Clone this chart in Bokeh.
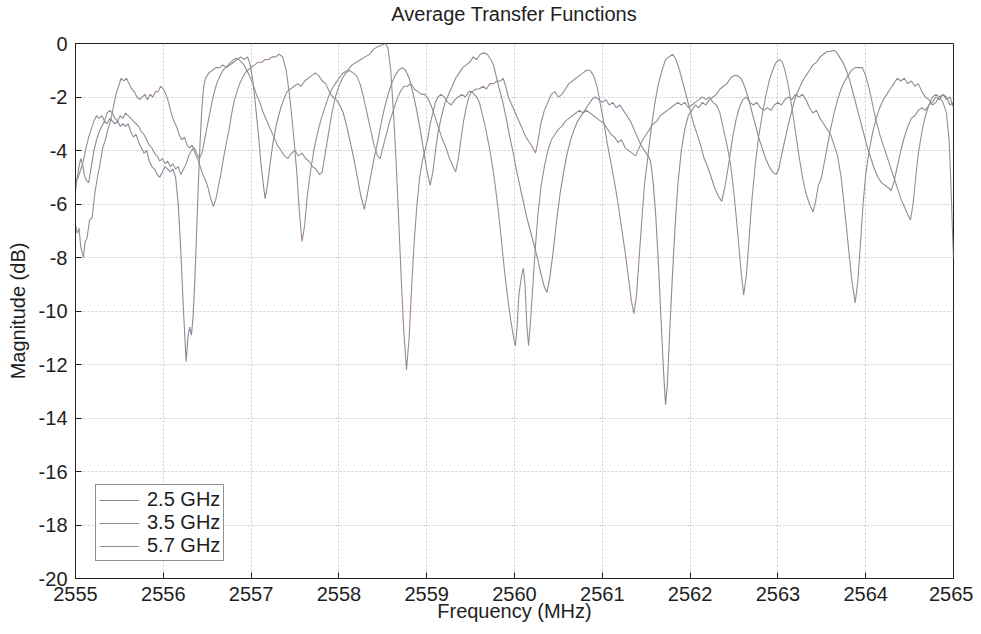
from bokeh.plotting import figure
from bokeh.models import ColumnDataSource, FixedTicker, Legend, LegendItem, Div
from bokeh.layouts import column
from bokeh.embed import file_html
from bokeh.resources import INLINE

# ---- data (frequency MHz, magnitude dB) ----
pts_25 = [
    (2555.00, -5.5), (2555.02, -5.0), (2555.04, -4.6), (2555.06, -4.3), (2555.08, -4.5), (2555.10, -4.9),
    (2555.12, -5.1), (2555.15, -5.2), (2555.18, -4.6), (2555.21, -4.0), (2555.24, -3.6), (2555.27, -3.3),
    (2555.30, -3.1), (2555.33, -2.9), (2555.36, -3.0), (2555.39, -2.8), (2555.42, -2.9), (2555.45, -3.0),
    (2555.48, -2.9), (2555.51, -3.1), (2555.54, -3.0), (2555.57, -3.1), (2555.60, -3.0), (2555.63, -3.3),
    (2555.66, -3.5), (2555.69, -3.4), (2555.72, -3.7), (2555.75, -3.9), (2555.78, -4.1), (2555.81, -4.0),
    (2555.84, -4.4), (2555.87, -4.6), (2555.90, -4.7), (2555.93, -4.9), (2555.96, -5.0), (2555.99, -4.8),
    (2556.02, -4.6), (2556.05, -4.7), (2556.08, -4.8), (2556.11, -4.7), (2556.14, -5.0), (2556.17, -6.0),
    (2556.20, -7.8), (2556.23, -10.0), (2556.26, -11.9), (2556.28, -11.0), (2556.30, -10.6), (2556.32, -10.9),
    (2556.34, -10.2), (2556.36, -8.8), (2556.38, -7.0), (2556.40, -5.2), (2556.42, -3.6), (2556.44, -2.4),
    (2556.46, -1.6), (2556.48, -1.3), (2556.52, -1.1), (2556.56, -1.0), (2556.60, -0.9), (2556.64, -0.9),
    (2556.68, -0.8), (2556.72, -0.9), (2556.76, -0.8), (2556.80, -0.7), (2556.84, -0.6), (2556.88, -0.5),
    (2556.92, -0.6), (2556.96, -0.5), (2556.99, -0.8), (2557.02, -1.4), (2557.05, -2.3), (2557.08, -3.3),
    (2557.11, -4.4), (2557.14, -5.3), (2557.16, -5.8), (2557.19, -5.2), (2557.22, -4.4), (2557.25, -3.7),
    (2557.29, -3.0), (2557.33, -2.5), (2557.37, -2.1), (2557.41, -1.8), (2557.45, -1.7), (2557.49, -1.6),
    (2557.53, -1.5), (2557.57, -1.6), (2557.61, -1.4), (2557.65, -1.3), (2557.69, -1.2), (2557.73, -1.1),
    (2557.77, -1.2), (2557.81, -1.4), (2557.85, -1.5), (2557.89, -1.8), (2557.93, -2.0), (2557.97, -2.1),
    (2558.01, -2.3), (2558.05, -2.6), (2558.09, -3.1), (2558.13, -3.7), (2558.17, -4.3), (2558.21, -5.0),
    (2558.25, -5.7), (2558.29, -6.2), (2558.32, -5.7), (2558.36, -5.0), (2558.40, -4.3), (2558.44, -3.7),
    (2558.48, -3.0), (2558.52, -2.4), (2558.56, -1.9), (2558.60, -1.5), (2558.64, -1.2), (2558.68, -1.0),
    (2558.72, -0.9), (2558.76, -1.0), (2558.80, -1.3), (2558.84, -1.8), (2558.88, -2.4), (2558.92, -3.1),
    (2558.96, -3.9), (2559.00, -4.7), (2559.04, -5.3), (2559.07, -4.8), (2559.10, -4.0), (2559.13, -3.3),
    (2559.17, -2.7), (2559.21, -2.2), (2559.25, -1.9), (2559.29, -1.6), (2559.33, -1.3), (2559.37, -1.1),
    (2559.41, -0.9), (2559.45, -0.8), (2559.49, -0.7), (2559.53, -0.5), (2559.57, -0.6), (2559.61, -0.4),
    (2559.65, -0.35), (2559.69, -0.4), (2559.73, -0.6), (2559.76, -0.8), (2559.79, -1.2), (2559.82, -1.6),
    (2559.86, -2.1), (2559.90, -2.7), (2559.94, -3.4), (2559.98, -4.0), (2560.02, -4.7), (2560.06, -5.3),
    (2560.10, -5.9), (2560.14, -6.5), (2560.18, -7.0), (2560.22, -7.5), (2560.26, -8.0), (2560.30, -8.6),
    (2560.34, -9.1), (2560.37, -9.3), (2560.40, -8.8), (2560.44, -7.8), (2560.48, -6.6), (2560.52, -5.6),
    (2560.56, -4.8), (2560.60, -4.1), (2560.64, -3.6), (2560.68, -3.2), (2560.72, -2.9), (2560.76, -2.7),
    (2560.80, -2.5), (2560.84, -2.3), (2560.88, -2.1), (2560.92, -2.0), (2560.96, -2.1), (2561.00, -2.2),
    (2561.04, -2.1), (2561.08, -2.3), (2561.12, -2.2), (2561.16, -2.4), (2561.20, -2.3), (2561.24, -2.5),
    (2561.28, -2.7), (2561.32, -2.9), (2561.36, -3.2), (2561.40, -3.5), (2561.44, -3.8), (2561.48, -4.0),
    (2561.52, -4.2), (2561.55, -4.4), (2561.58, -5.2), (2561.61, -6.5), (2561.64, -8.3), (2561.67, -10.4),
    (2561.70, -12.4), (2561.72, -13.5), (2561.74, -12.8), (2561.77, -10.6), (2561.80, -8.6), (2561.83, -6.8),
    (2561.86, -5.3), (2561.90, -4.0), (2561.94, -3.2), (2561.98, -2.7), (2562.02, -2.5), (2562.06, -2.3),
    (2562.10, -2.4), (2562.14, -2.2), (2562.18, -2.3), (2562.22, -2.1), (2562.26, -2.0), (2562.30, -1.9),
    (2562.34, -1.7), (2562.38, -1.6), (2562.42, -1.5), (2562.46, -1.3), (2562.50, -1.2), (2562.54, -1.2),
    (2562.58, -1.3), (2562.62, -1.6), (2562.66, -2.0), (2562.70, -2.5), (2562.74, -3.0), (2562.78, -3.5),
    (2562.82, -3.9), (2562.86, -4.3), (2562.90, -4.6), (2562.94, -4.8), (2562.98, -4.9), (2563.01, -4.7),
    (2563.04, -4.2), (2563.08, -3.6), (2563.12, -3.0), (2563.16, -2.5), (2563.20, -2.0), (2563.24, -1.7),
    (2563.28, -1.4), (2563.32, -1.2), (2563.36, -1.0), (2563.40, -0.8), (2563.44, -0.7), (2563.48, -0.5),
    (2563.52, -0.4), (2563.56, -0.3), (2563.60, -0.3), (2563.63, -0.25), (2563.66, -0.3), (2563.70, -0.5),
    (2563.74, -0.7), (2563.78, -1.0), (2563.82, -1.4), (2563.86, -1.9), (2563.90, -2.4), (2563.94, -2.9),
    (2563.98, -3.4), (2564.02, -3.9), (2564.06, -4.3), (2564.10, -4.7), (2564.14, -5.0), (2564.18, -5.2),
    (2564.22, -5.3), (2564.26, -5.4), (2564.29, -5.5), (2564.32, -5.2), (2564.36, -4.6), (2564.40, -4.0),
    (2564.44, -3.5), (2564.48, -3.1), (2564.52, -2.8), (2564.56, -2.7), (2564.60, -2.5), (2564.64, -2.4),
    (2564.68, -2.5), (2564.72, -2.3), (2564.76, -2.2), (2564.80, -2.0), (2564.84, -2.1), (2564.88, -1.9),
    (2564.92, -2.0), (2564.96, -2.3), (2565.00, -2.2),
]

pts_35 = [
    (2555.00, -5.2), (2555.03, -5.0), (2555.06, -4.7), (2555.09, -4.4), (2555.12, -3.9), (2555.15, -3.5),
    (2555.18, -3.2), (2555.21, -2.9), (2555.24, -2.7), (2555.27, -2.8), (2555.30, -2.7), (2555.33, -2.9),
    (2555.36, -2.6), (2555.39, -2.5), (2555.42, -2.6), (2555.45, -2.8), (2555.48, -2.9), (2555.51, -2.7),
    (2555.54, -2.8), (2555.57, -2.6), (2555.60, -2.7), (2555.63, -2.8), (2555.66, -2.9), (2555.69, -3.0),
    (2555.72, -3.1), (2555.75, -3.3), (2555.78, -3.4), (2555.81, -3.6), (2555.84, -3.8), (2555.87, -3.9),
    (2555.90, -4.1), (2555.93, -4.2), (2555.96, -4.4), (2555.99, -4.3), (2556.02, -4.5), (2556.05, -4.4),
    (2556.08, -4.6), (2556.11, -4.5), (2556.14, -4.7), (2556.17, -4.6), (2556.20, -4.9), (2556.23, -4.7),
    (2556.26, -4.5), (2556.29, -4.2), (2556.32, -4.0), (2556.35, -3.9), (2556.38, -4.1), (2556.41, -4.3),
    (2556.44, -4.1), (2556.47, -3.6), (2556.50, -3.1), (2556.53, -2.6), (2556.56, -2.1), (2556.59, -1.7),
    (2556.62, -1.4), (2556.65, -1.2), (2556.68, -1.0), (2556.71, -0.9), (2556.74, -0.8), (2556.77, -0.7),
    (2556.80, -0.6), (2556.83, -0.55), (2556.86, -0.6), (2556.89, -0.7), (2556.92, -0.8), (2556.95, -1.0),
    (2556.98, -1.2), (2557.02, -1.5), (2557.06, -1.9), (2557.10, -2.2), (2557.14, -2.6), (2557.18, -2.9),
    (2557.22, -3.2), (2557.26, -3.5), (2557.30, -3.8), (2557.34, -4.0), (2557.38, -4.2), (2557.42, -4.3),
    (2557.46, -4.1), (2557.50, -4.0), (2557.54, -4.2), (2557.58, -4.1), (2557.62, -4.3), (2557.66, -4.4),
    (2557.70, -4.6), (2557.74, -4.7), (2557.78, -4.9), (2557.81, -4.8), (2557.84, -4.2), (2557.88, -3.4),
    (2557.92, -2.6), (2557.96, -2.0), (2558.00, -1.6), (2558.04, -1.3), (2558.08, -1.1), (2558.12, -1.0),
    (2558.16, -1.1), (2558.20, -1.2), (2558.24, -1.5), (2558.28, -2.0), (2558.32, -2.6), (2558.36, -3.2),
    (2558.40, -3.8), (2558.44, -4.2), (2558.47, -4.3), (2558.50, -3.9), (2558.54, -3.4), (2558.58, -2.9),
    (2558.62, -2.5), (2558.66, -2.1), (2558.70, -1.8), (2558.74, -1.6), (2558.78, -1.6), (2558.82, -1.5),
    (2558.86, -1.7), (2558.90, -1.8), (2558.94, -1.9), (2558.98, -1.9), (2559.02, -2.1), (2559.06, -2.4),
    (2559.10, -2.8), (2559.14, -3.2), (2559.18, -3.6), (2559.22, -3.9), (2559.26, -4.3), (2559.30, -4.6),
    (2559.33, -4.8), (2559.36, -4.3), (2559.39, -3.6), (2559.42, -2.9), (2559.45, -2.4), (2559.48, -2.0),
    (2559.51, -1.8), (2559.54, -1.9), (2559.57, -2.0), (2559.60, -2.2), (2559.63, -2.6), (2559.66, -3.0),
    (2559.69, -3.5), (2559.72, -4.0), (2559.75, -4.6), (2559.78, -5.3), (2559.81, -6.1), (2559.84, -7.0),
    (2559.87, -8.0), (2559.90, -8.9), (2559.93, -9.7), (2559.96, -10.4), (2559.99, -11.0), (2560.01, -11.3),
    (2560.03, -10.6), (2560.05, -9.4), (2560.08, -8.7), (2560.10, -8.4), (2560.12, -9.0), (2560.14, -10.5),
    (2560.16, -11.3), (2560.18, -10.5), (2560.21, -9.0), (2560.24, -7.5), (2560.27, -6.3), (2560.30, -5.4),
    (2560.34, -4.6), (2560.38, -4.0), (2560.42, -3.6), (2560.46, -3.4), (2560.50, -3.2), (2560.54, -3.1),
    (2560.58, -2.9), (2560.62, -2.8), (2560.66, -2.7), (2560.70, -2.6), (2560.74, -2.5), (2560.78, -2.6),
    (2560.82, -2.5), (2560.86, -2.6), (2560.90, -2.7), (2560.94, -2.8), (2560.98, -2.9), (2561.02, -3.0),
    (2561.06, -3.2), (2561.10, -3.4), (2561.14, -3.5), (2561.18, -3.7), (2561.22, -3.6), (2561.26, -3.9),
    (2561.30, -4.0), (2561.34, -4.1), (2561.38, -4.2), (2561.42, -3.9), (2561.46, -3.6), (2561.50, -3.4),
    (2561.54, -3.2), (2561.58, -3.0), (2561.62, -2.9), (2561.66, -2.7), (2561.70, -2.6), (2561.74, -2.5),
    (2561.78, -2.4), (2561.82, -2.3), (2561.86, -2.2), (2561.90, -2.3), (2561.94, -2.2), (2561.98, -2.4),
    (2562.02, -2.3), (2562.06, -2.2), (2562.10, -2.1), (2562.14, -2.0), (2562.18, -2.1), (2562.22, -2.0),
    (2562.26, -2.2), (2562.30, -2.3), (2562.34, -2.6), (2562.38, -3.2), (2562.42, -3.8), (2562.46, -4.5),
    (2562.50, -5.6), (2562.54, -7.0), (2562.58, -8.5), (2562.61, -9.4), (2562.64, -8.7), (2562.67, -7.4),
    (2562.70, -6.0), (2562.74, -4.6), (2562.78, -3.5), (2562.82, -2.7), (2562.86, -2.0), (2562.90, -1.4),
    (2562.94, -1.0), (2562.98, -0.7), (2563.02, -0.6), (2563.05, -0.7), (2563.08, -1.0), (2563.12, -1.6),
    (2563.16, -2.4), (2563.20, -3.3), (2563.24, -4.2), (2563.28, -5.0), (2563.32, -5.6), (2563.36, -6.0),
    (2563.40, -6.3), (2563.43, -5.9), (2563.46, -5.3), (2563.49, -5.1), (2563.52, -4.6), (2563.56, -3.9),
    (2563.60, -3.2), (2563.64, -2.6), (2563.68, -2.1), (2563.72, -1.7), (2563.76, -1.4), (2563.80, -1.2),
    (2563.84, -1.0), (2563.88, -0.9), (2563.92, -0.9), (2563.96, -0.9), (2564.00, -1.2), (2564.04, -1.7),
    (2564.08, -2.3), (2564.12, -2.9), (2564.16, -3.4), (2564.20, -3.8), (2564.24, -4.2), (2564.28, -4.6),
    (2564.32, -5.0), (2564.36, -5.4), (2564.40, -5.8), (2564.44, -6.1), (2564.48, -6.4), (2564.51, -6.6),
    (2564.54, -6.0), (2564.57, -5.0), (2564.60, -4.1), (2564.64, -3.3), (2564.68, -2.7), (2564.72, -2.3),
    (2564.76, -2.0), (2564.80, -1.9), (2564.84, -2.0), (2564.88, -2.2), (2564.92, -2.6), (2564.95, -3.6),
    (2564.97, -5.2), (2564.99, -7.2), (2565.00, -8.0),
]

pts_57 = [
    (2555.00, -6.8), (2555.02, -7.1), (2555.04, -6.9), (2555.06, -7.6), (2555.09, -8.0), (2555.11, -7.4),
    (2555.13, -7.3), (2555.16, -6.6), (2555.19, -6.5), (2555.22, -5.6), (2555.25, -5.0), (2555.28, -4.5),
    (2555.31, -3.9), (2555.34, -3.6), (2555.37, -3.2), (2555.40, -2.9), (2555.43, -2.4), (2555.46, -1.9),
    (2555.49, -1.6), (2555.52, -1.3), (2555.55, -1.4), (2555.58, -1.3), (2555.61, -1.5), (2555.64, -1.7),
    (2555.67, -1.8), (2555.70, -2.0), (2555.73, -2.1), (2555.76, -2.0), (2555.79, -1.9), (2555.82, -2.1),
    (2555.85, -1.9), (2555.88, -2.0), (2555.91, -1.8), (2555.94, -1.8), (2555.97, -1.6), (2556.00, -1.7),
    (2556.03, -1.9), (2556.06, -2.2), (2556.09, -2.6), (2556.12, -2.9), (2556.15, -3.1), (2556.18, -3.4),
    (2556.21, -3.6), (2556.24, -3.5), (2556.27, -3.8), (2556.30, -3.9), (2556.33, -3.8), (2556.36, -4.1),
    (2556.39, -4.3), (2556.42, -4.6), (2556.45, -4.9), (2556.48, -5.1), (2556.51, -5.4), (2556.54, -5.8),
    (2556.57, -6.1), (2556.60, -5.8), (2556.63, -5.3), (2556.66, -4.8), (2556.69, -4.2), (2556.72, -3.7),
    (2556.75, -3.2), (2556.78, -2.6), (2556.81, -2.1), (2556.84, -1.8), (2556.87, -1.5), (2556.90, -1.3),
    (2556.93, -1.1), (2556.96, -1.0), (2557.00, -0.9), (2557.04, -0.8), (2557.08, -0.7), (2557.12, -0.7),
    (2557.16, -0.6), (2557.20, -0.6), (2557.24, -0.5), (2557.28, -0.5), (2557.32, -0.4), (2557.36, -0.5),
    (2557.40, -1.0), (2557.44, -2.0), (2557.48, -3.3), (2557.52, -4.8), (2557.55, -6.3), (2557.58, -7.4),
    (2557.61, -6.8), (2557.64, -5.7), (2557.68, -4.7), (2557.72, -3.9), (2557.76, -3.3), (2557.80, -2.8),
    (2557.84, -2.4), (2557.88, -2.0), (2557.92, -1.7), (2557.96, -1.5), (2558.00, -1.3), (2558.05, -1.1),
    (2558.10, -1.0), (2558.15, -0.8), (2558.20, -0.7), (2558.25, -0.6), (2558.30, -0.5), (2558.35, -0.4),
    (2558.40, -0.2), (2558.45, -0.1), (2558.50, -0.05), (2558.53, 0.0), (2558.56, -0.2), (2558.59, -1.0),
    (2558.62, -2.5), (2558.65, -4.3), (2558.68, -6.5), (2558.71, -8.8), (2558.74, -10.8), (2558.77, -12.2),
    (2558.80, -11.0), (2558.83, -9.0), (2558.86, -7.3), (2558.89, -6.0), (2558.92, -5.0), (2558.95, -4.4),
    (2558.98, -4.0), (2559.01, -3.6), (2559.04, -3.0), (2559.07, -2.6), (2559.10, -2.2), (2559.13, -2.0),
    (2559.16, -1.9), (2559.20, -2.0), (2559.24, -2.2), (2559.28, -2.3), (2559.32, -2.1), (2559.36, -2.0),
    (2559.40, -1.9), (2559.44, -2.0), (2559.48, -1.8), (2559.52, -1.8), (2559.56, -1.7), (2559.60, -1.7),
    (2559.64, -1.6), (2559.68, -1.7), (2559.72, -1.5), (2559.76, -1.5), (2559.80, -1.4), (2559.84, -1.4),
    (2559.87, -1.3), (2559.90, -1.6), (2559.93, -2.0), (2559.97, -2.3), (2560.01, -2.6), (2560.05, -2.9),
    (2560.09, -3.2), (2560.13, -3.5), (2560.17, -3.7), (2560.21, -3.9), (2560.24, -4.1), (2560.27, -3.6),
    (2560.30, -3.0), (2560.34, -2.5), (2560.38, -2.2), (2560.42, -1.9), (2560.46, -1.8), (2560.50, -2.0),
    (2560.54, -1.9), (2560.58, -1.7), (2560.62, -1.5), (2560.66, -1.4), (2560.70, -1.3), (2560.74, -1.2),
    (2560.78, -1.1), (2560.82, -1.0), (2560.86, -1.0), (2560.90, -1.2), (2560.94, -1.6), (2560.98, -2.3),
    (2561.02, -3.0), (2561.06, -3.8), (2561.10, -4.5), (2561.14, -5.2), (2561.18, -6.0), (2561.22, -6.9),
    (2561.26, -7.8), (2561.30, -8.8), (2561.33, -9.6), (2561.36, -10.1), (2561.39, -9.4), (2561.42, -8.0),
    (2561.45, -6.6), (2561.48, -5.3), (2561.52, -4.2), (2561.56, -3.1), (2561.60, -2.2), (2561.64, -1.5),
    (2561.68, -1.0), (2561.72, -0.6), (2561.76, -0.5), (2561.80, -0.4), (2561.84, -0.6), (2561.88, -1.0),
    (2561.92, -1.5), (2561.96, -2.0), (2562.00, -2.5), (2562.04, -3.0), (2562.08, -3.4), (2562.12, -3.8),
    (2562.16, -4.3), (2562.20, -4.6), (2562.24, -5.0), (2562.28, -5.4), (2562.32, -5.7), (2562.36, -5.9),
    (2562.40, -5.3), (2562.44, -4.5), (2562.48, -3.6), (2562.52, -2.9), (2562.56, -2.4), (2562.60, -2.1),
    (2562.64, -2.0), (2562.68, -2.2), (2562.72, -2.3), (2562.76, -2.2), (2562.80, -2.4), (2562.84, -2.5),
    (2562.88, -2.4), (2562.92, -2.5), (2562.96, -2.3), (2563.00, -2.2), (2563.04, -2.3), (2563.08, -2.1),
    (2563.12, -2.0), (2563.16, -2.1), (2563.20, -1.9), (2563.24, -2.0), (2563.28, -1.9), (2563.32, -2.1),
    (2563.36, -2.4), (2563.40, -2.6), (2563.44, -2.5), (2563.48, -2.8), (2563.52, -3.0), (2563.56, -3.2),
    (2563.60, -3.4), (2563.64, -3.8), (2563.68, -4.2), (2563.72, -5.0), (2563.76, -6.2), (2563.80, -7.5),
    (2563.84, -8.8), (2563.88, -9.7), (2563.91, -8.9), (2563.94, -7.5), (2563.97, -6.0), (2564.00, -4.9),
    (2564.04, -4.0), (2564.08, -3.3), (2564.12, -2.8), (2564.16, -2.4), (2564.20, -2.1), (2564.24, -1.9),
    (2564.28, -1.7), (2564.32, -1.5), (2564.36, -1.3), (2564.40, -1.4), (2564.44, -1.3), (2564.48, -1.5),
    (2564.52, -1.4), (2564.56, -1.6), (2564.60, -1.5), (2564.64, -1.8), (2564.68, -2.0), (2564.72, -2.1),
    (2564.76, -2.3), (2564.80, -2.2), (2564.84, -2.0), (2564.88, -1.9), (2564.92, -2.1), (2564.96, -2.0),
    (2565.00, -2.4),
]

series_names = ["2.5 GHz", "3.5 GHz", "5.7 GHz"]
series_pts = [pts_25, pts_35, pts_57]
series_colors = ["#868c9a", "#8a958a", "#9c8890"]
title_text = "Average Transfer Functions"

x_ticks = list(range(2555, 2566))
y_ticks = list(range(-20, 1, 2))

FONT = "Liberation Sans"
TXT = "#1e1e1e"

title_div = Div(text=title_text, width=878, height=28, margin=(0, 0, 0, 75),
                styles={"text-align": "center", "font-family": FONT, "font-size": "20px",
                        "color": TXT, "line-height": "28px", "white-space": "nowrap"})

p = figure(width=973, height=599, x_range=(2555, 2565), y_range=(-20, 0),
           output_backend="svg", toolbar_location=None,
           min_border_left=75, min_border_right=20, min_border_top=15, min_border_bottom=49,
           x_axis_label="Frequency (MHz)", y_axis_label="Magnitude (dB)")

p.background_fill_color = "white"
p.border_fill_color = "white"
p.outline_line_color = "#202020"
p.outline_line_width = 1

for ax in (p.xaxis[0], p.yaxis[0]):
    ax.axis_label_text_font = FONT
    ax.axis_label_text_font_size = "20px"
    ax.axis_label_text_font_style = "normal"
    ax.axis_label_text_color = TXT
    ax.major_label_text_font = FONT
    ax.major_label_text_font_size = "20px"
    ax.major_label_text_color = TXT
    ax.major_tick_in = 6
    ax.major_tick_out = 0
    ax.minor_tick_in = 0
    ax.minor_tick_out = 0
    ax.axis_line_color = "#202020"
    ax.major_tick_line_color = "#202020"

p.xaxis[0].ticker = FixedTicker(ticks=x_ticks)
p.yaxis[0].ticker = FixedTicker(ticks=y_ticks)
p.yaxis[0].major_label_overrides = {v: str(v) for v in y_ticks}
p.xaxis[0].major_label_standoff = 8
p.xaxis[0].axis_label_standoff = -4
p.yaxis[0].major_label_standoff = 8
p.yaxis[0].axis_label_standoff = 7

p.xgrid.ticker = FixedTicker(ticks=x_ticks)
p.ygrid.ticker = FixedTicker(ticks=y_ticks)
for g in (p.xgrid[0], p.ygrid[0]):
    g.grid_line_color = "#cccccc"
    g.grid_line_dash = "2 2"
    g.grid_line_width = 1

items = []
for name, pts, col in zip(series_names, series_pts, series_colors):
    src = ColumnDataSource(data=dict(f=[a for a, b in pts], db=[b for a, b in pts]))
    r = p.line("f", "db", source=src, line_color=col, line_width=1.1)
    items.append(LegendItem(label=name, renderers=[r]))

legend = Legend(items=items, location=(20, 17))
legend.label_text_font = FONT
legend.label_text_font_size = "20px"
legend.label_text_color = TXT
legend.label_height = 18
legend.glyph_height = 18
legend.glyph_width = 40
legend.label_standoff = 8
legend.spacing = 0
legend.padding = 3
legend.margin = 0
legend.border_line_color = "#202020"
legend.border_line_width = 1
legend.background_fill_color = "white"
legend.background_fill_alpha = 1.0
p.add_layout(legend, "center")

layout = column(title_div, p, spacing=0)
open("out.html", "w").write(file_html(layout, INLINE))
